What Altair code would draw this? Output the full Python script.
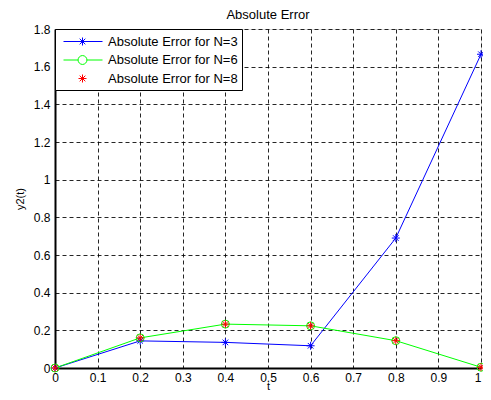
import altair as alt
import pandas as pd

# ---- data ----
t_vals = [0.0, 0.2, 0.4, 0.6, 0.8, 1.0]
err_n3 = [0.0, 0.144, 0.136, 0.118, 0.690, 1.666]
err_n6 = [0.0, 0.160, 0.233, 0.224, 0.145, 0.004]
err_n8 = [0.0, 0.160, 0.233, 0.224, 0.145, 0.004]
series_names = ["Absolute Error for N=3", "Absolute Error for N=6", "Absolute Error for N=8"]
series_colors = ["#0000ff", "#00ff00", "#ff0000"]
line_series = ["Absolute Error for N=3", "Absolute Error for N=6"]
x_ticks = [0, 0.1, 0.2, 0.3, 0.4, 0.5, 0.6, 0.7, 0.8, 0.9, 1.0]
y_ticks = [0, 0.2, 0.4, 0.6, 0.8, 1.0, 1.2, 1.4, 1.6, 1.8]

rows = []
for name, vals in zip(series_names, [err_n3, err_n6, err_n8]):
    for tv, v in zip(t_vals, vals):
        rows.append({"t": tv, "err": v, "series": name})
df = pd.DataFrame(rows)

FONT = "Liberation Sans"

STAR = "M-1,0H1M0,-1V1M-0.7,-0.7L0.7,0.7M-0.7,0.7L0.7,-0.7"
marker_shapes = [STAR, "circle", STAR]

# legend symbols: line + marker (MATLAB style)
LEG_STAR = "M1.375,0H2.375M1.875,-0.5V0.5M1.52,-0.35L2.23,0.35M1.52,0.35L2.23,-0.35"
LEG_LINE_L = "M-0.5,0H1.32"
LEG_LINE_R = "M2.43,0H4.375"
LEG_CIRC = "M2.43,0A0.555,0.555 0 1,1 1.32,0A0.555,0.555 0 1,1 2.43,0"
legend_shapes = [
    "M-0.5,0H4.375" + LEG_STAR,
    LEG_LINE_L + LEG_LINE_R + LEG_CIRC,
    LEG_STAR,
]

x_enc = alt.X(
    "t:Q",
    scale=alt.Scale(domain=[0, 1], nice=False, zero=False),
    axis=alt.Axis(
        values=x_ticks, format="~g", title="t", grid=True,
        gridDash=[4, 3], gridColor="black", gridOpacity=0.85, gridWidth=1,
        tickSize=0, labelPadding=4, domainColor="black", domainWidth=2,
        labelFont=FONT, labelFontSize=12, labelColor="black",
        labelAlign={"condition": {"test": "datum.value >= 1", "value": "right"}, "value": "center"},
        titleFont=FONT, titleFontSize=11, titleFontWeight="normal",
        titleColor="black", titlePadding=-3, labelFlush=False,
    ),
)
y_enc = alt.Y(
    "err:Q",
    scale=alt.Scale(domain=[0, 1.8], nice=False),
    axis=alt.Axis(
        values=y_ticks, format="~g", title="y2(t)", grid=True,
        gridDash=[4, 3], gridColor="black", gridOpacity=0.85, gridWidth=1,
        tickSize=0, labelPadding=5, domainColor="black", domainWidth=2,
        labelFont=FONT, labelFontSize=12, labelColor="black",
        titleFont=FONT, titleFontSize=11, titleFontWeight="normal",
        titleColor="black", titlePadding=8, labelFlush=False,
    ),
)

base = alt.Chart(df)

lines = base.transform_filter(
    alt.FieldOneOfPredicate(field="series", oneOf=line_series)
).mark_line(strokeWidth=1).encode(
    x=x_enc, y=y_enc,
    color=alt.Color("series:N", scale=alt.Scale(domain=series_names, range=series_colors), legend=None),
    detail="series:N",
)

points = base.mark_point(filled=False, strokeWidth=1, size=64, opacity=1).encode(
    x=x_enc, y=y_enc,
    color=alt.Color("series:N", scale=alt.Scale(domain=series_names, range=series_colors), legend=None),
    shape=alt.Shape("series:N", scale=alt.Scale(domain=series_names, range=marker_shapes), legend=None),
)

leg = dict(
    orient="top-left", offset=0, title=None, strokeColor="black",
    fillColor="white", padding=4, symbolSize=256, labelOffset=32,
    rowPadding=2.5, labelFont=FONT, labelFontSize=13, labelColor="black",
    symbolStrokeWidth=1, cornerRadius=0, labelLimit=400,
)

legend_layer = base.transform_filter("false").mark_point(filled=False, strokeWidth=1, opacity=1).encode(
    x=x_enc, y=y_enc,
    color=alt.Color(
        "series:N", scale=alt.Scale(domain=series_names, range=series_colors),
        legend=alt.Legend(**leg),
    ),
    shape=alt.Shape(
        "series:N", scale=alt.Scale(domain=series_names, range=legend_shapes),
        legend=alt.Legend(**leg),
    ),
)

chart = alt.layer(lines, points, legend_layer).resolve_scale(
    color="independent", shape="independent"
).properties(
    width=426,
    height=339,
    title=alt.Title("Absolute Error", font=FONT, fontSize=13, fontWeight="normal",
                    color="black", offset=1, anchor="middle"),
    autosize=alt.AutoSizeParams(type="none"),
    padding={"left": 47, "top": 21, "right": 2, "bottom": 24},
).configure_view(stroke="black", strokeWidth=2).configure(background="white")

chart.save("out.html", embed_options={"renderer": "svg", "actions": False})
